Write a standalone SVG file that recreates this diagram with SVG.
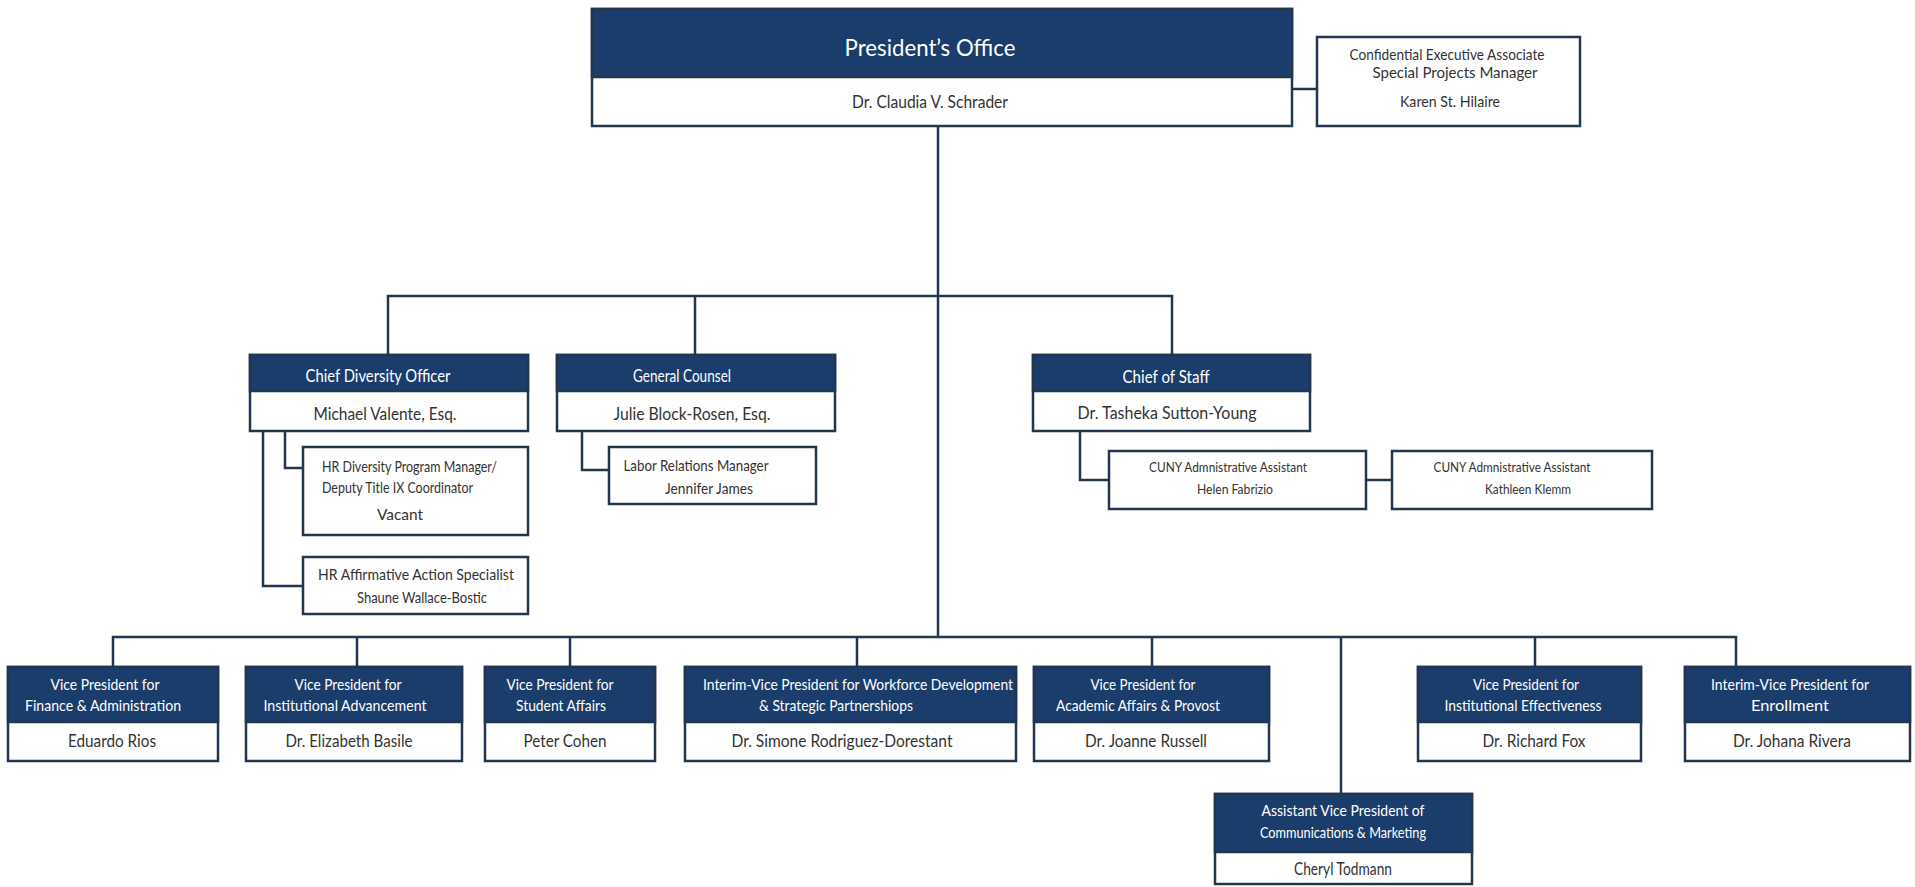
<svg xmlns="http://www.w3.org/2000/svg" width="1915" height="887" viewBox="0 0 1915 887">
<style>
.bx{fill:#fff;stroke:#233650;stroke-width:2.5}
.hd{fill:#1b3d6b;stroke:#233650;stroke-width:2.5}
.ln{fill:none;stroke:#233650;stroke-width:2.5}
text{font-family:Lato,"Open Sans","Liberation Sans",sans-serif;text-anchor:middle}
.tw{fill:#fff}
.td{fill:#333}
.s{text-anchor:start}
</style>
<rect width="1915" height="887" fill="#fff"/>
<g id="connectors">
<path class="ln" d="M938 126V637"/>
<path class="ln" d="M388 355V296H1172V355M695 296V355"/>
<path class="ln" d="M1292 89H1317"/>
<path class="ln" d="M285 431V468H303M263 431V586H303"/>
<path class="ln" d="M582 431V470H609"/>
<path class="ln" d="M1080 431V480H1109M1366 480H1392"/>
<path class="ln" d="M113 667V637H1736V667M357 637V667M570 637V667M857 637V667M1152 637V667M1535 637V667M1341 637V794"/>
</g>
<g id="president">
<rect class="bx" x="592" y="9" width="700" height="117"/>
<rect class="hd" x="592" y="9" width="700" height="68"/>
<text class="tw" x="930" y="56" font-size="24" textLength="171" lengthAdjust="spacingAndGlyphs">President’s Office</text>
<text class="td" x="930" y="108" font-size="17" textLength="156" lengthAdjust="spacingAndGlyphs">Dr. Claudia V. Schrader</text>
</g>
<g id="confidential">
<rect class="bx" x="1317" y="37" width="263" height="89"/>
<text class="td" x="1447" y="60" font-size="15" textLength="195" lengthAdjust="spacingAndGlyphs">Confidential Executive Associate</text>
<text class="td" x="1455" y="78" font-size="15" textLength="165" lengthAdjust="spacingAndGlyphs">Special  Projects  Manager</text>
<text class="td" x="1450" y="107" font-size="16" textLength="100" lengthAdjust="spacingAndGlyphs">Karen St. Hilaire</text>
</g>
<g id="cdo">
<rect class="bx" x="250" y="355" width="278" height="76"/>
<rect class="hd" x="250" y="355" width="278" height="36"/>
<text class="tw" x="378" y="382" font-size="17" textLength="145" lengthAdjust="spacingAndGlyphs">Chief Diversity Officer</text>
<text class="td" x="385" y="420" font-size="18" textLength="143" lengthAdjust="spacingAndGlyphs">Michael Valente, Esq.</text>
</g>
<g id="gc">
<rect class="bx" x="557" y="355" width="278" height="76"/>
<rect class="hd" x="557" y="355" width="278" height="36"/>
<text class="tw" x="682" y="382" font-size="17" textLength="98" lengthAdjust="spacingAndGlyphs">General Counsel</text>
<text class="td" x="692" y="420" font-size="18" textLength="157" lengthAdjust="spacingAndGlyphs">Julie Block-Rosen, Esq.</text>
</g>
<g id="cos">
<rect class="bx" x="1033" y="355" width="277" height="76"/>
<rect class="hd" x="1033" y="355" width="277" height="36"/>
<text class="tw" x="1166" y="383" font-size="17" textLength="87" lengthAdjust="spacingAndGlyphs">Chief of Staff</text>
<text class="td" x="1167" y="419" font-size="18" textLength="179" lengthAdjust="spacingAndGlyphs">Dr. Tasheka Sutton-Young</text>
</g>
<g id="hr-diversity">
<rect class="bx" x="303" y="447" width="225" height="88"/>
<text class="td s" x="322" y="472" font-size="15" textLength="175" lengthAdjust="spacingAndGlyphs">HR Diversity Program Manager/</text>
<text class="td s" x="322" y="493" font-size="15" textLength="151" lengthAdjust="spacingAndGlyphs">Deputy Title IX Coordinator</text>
<text class="td" x="400" y="520" font-size="15" textLength="46" lengthAdjust="spacingAndGlyphs">Vacant</text>
</g>
<g id="hr-affirmative">
<rect class="bx" x="303" y="557" width="225" height="57"/>
<text class="td" x="416" y="580" font-size="15" textLength="196" lengthAdjust="spacingAndGlyphs">HR Affirmative Action Specialist</text>
<text class="td" x="422" y="603" font-size="15" textLength="130" lengthAdjust="spacingAndGlyphs">Shaune Wallace-Bostic</text>
</g>
<g id="labor-relations">
<rect class="bx" x="609" y="447" width="207" height="57"/>
<text class="td" x="696" y="471" font-size="15" textLength="145" lengthAdjust="spacingAndGlyphs">Labor Relations Manager</text>
<text class="td" x="709" y="494" font-size="15" textLength="88" lengthAdjust="spacingAndGlyphs">Jennifer James</text>
</g>
<g id="cuny-1">
<rect class="bx" x="1109" y="451" width="257" height="58"/>
<text class="td" x="1228" y="472" font-size="13" textLength="158" lengthAdjust="spacingAndGlyphs">CUNY Admnistrative Assistant</text>
<text class="td" x="1235" y="494" font-size="13" textLength="76" lengthAdjust="spacingAndGlyphs">Helen Fabrizio</text>
</g>
<g id="cuny-2">
<rect class="bx" x="1392" y="451" width="260" height="58"/>
<text class="td" x="1512" y="472" font-size="13" textLength="157" lengthAdjust="spacingAndGlyphs">CUNY Admnistrative Assistant</text>
<text class="td" x="1528" y="494" font-size="13" textLength="86" lengthAdjust="spacingAndGlyphs">Kathleen Klemm</text>
</g>
<g id="vp-finance">
<rect class="bx" x="8" y="667" width="210" height="94"/>
<rect class="hd" x="8" y="667" width="210" height="55"/>
<text class="tw" x="105" y="690" font-size="16" textLength="109" lengthAdjust="spacingAndGlyphs">Vice President for</text>
<text class="tw" x="103" y="711" font-size="16" textLength="156" lengthAdjust="spacingAndGlyphs">Finance &amp; Administration</text>
<text class="td" x="112" y="747" font-size="17" textLength="88" lengthAdjust="spacingAndGlyphs">Eduardo Rios</text>
</g>
<g id="vp-advancement">
<rect class="bx" x="246" y="667" width="216" height="94"/>
<rect class="hd" x="246" y="667" width="216" height="55"/>
<text class="tw" x="348" y="690" font-size="16" textLength="107" lengthAdjust="spacingAndGlyphs">Vice President for</text>
<text class="tw" x="345" y="711" font-size="16" textLength="163" lengthAdjust="spacingAndGlyphs">Institutional Advancement</text>
<text class="td" x="349" y="747" font-size="17" textLength="127" lengthAdjust="spacingAndGlyphs">Dr. Elizabeth Basile</text>
</g>
<g id="vp-student">
<rect class="bx" x="485" y="667" width="170" height="94"/>
<rect class="hd" x="485" y="667" width="170" height="55"/>
<text class="tw" x="560" y="690" font-size="16" textLength="107" lengthAdjust="spacingAndGlyphs">Vice President for</text>
<text class="tw" x="561" y="711" font-size="16" textLength="90" lengthAdjust="spacingAndGlyphs">Student Affairs</text>
<text class="td" x="565" y="747" font-size="17" textLength="83" lengthAdjust="spacingAndGlyphs">Peter Cohen</text>
</g>
<g id="vp-workforce">
<rect class="bx" x="685" y="667" width="331" height="94"/>
<rect class="hd" x="685" y="667" width="331" height="55"/>
<text class="tw" x="858" y="690" font-size="16" textLength="310" lengthAdjust="spacingAndGlyphs">Interim-Vice President for Workforce Development</text>
<text class="tw" x="836" y="711" font-size="16" textLength="154" lengthAdjust="spacingAndGlyphs">&amp; Strategic Partnershiops</text>
<text class="td" x="842" y="747" font-size="17" textLength="221" lengthAdjust="spacingAndGlyphs">Dr. Simone Rodriguez-Dorestant</text>
</g>
<g id="vp-academic">
<rect class="bx" x="1034" y="667" width="235" height="94"/>
<rect class="hd" x="1034" y="667" width="235" height="55"/>
<text class="tw" x="1143" y="690" font-size="16" textLength="105" lengthAdjust="spacingAndGlyphs">Vice President for</text>
<text class="tw" x="1138" y="711" font-size="16" textLength="164" lengthAdjust="spacingAndGlyphs">Academic Affairs &amp; Provost</text>
<text class="td" x="1146" y="747" font-size="17" textLength="122" lengthAdjust="spacingAndGlyphs">Dr. Joanne Russell</text>
</g>
<g id="avp-communications">
<rect class="bx" x="1215" y="794" width="257" height="90"/>
<rect class="hd" x="1215" y="794" width="257" height="58"/>
<text class="tw" x="1343" y="816" font-size="16" textLength="163" lengthAdjust="spacingAndGlyphs">Assistant Vice President of</text>
<text class="tw" x="1343" y="838" font-size="16" textLength="166" lengthAdjust="spacingAndGlyphs">Communications &amp; Marketing</text>
<text class="td" x="1343" y="875" font-size="17" textLength="98" lengthAdjust="spacingAndGlyphs">Cheryl Todmann</text>
</g>
<g id="vp-effectiveness">
<rect class="bx" x="1418" y="667" width="223" height="94"/>
<rect class="hd" x="1418" y="667" width="223" height="55"/>
<text class="tw" x="1526" y="690" font-size="16" textLength="106" lengthAdjust="spacingAndGlyphs">Vice President for</text>
<text class="tw" x="1523" y="711" font-size="16" textLength="157" lengthAdjust="spacingAndGlyphs">Institutional Effectiveness</text>
<text class="td" x="1534" y="747" font-size="17" textLength="103" lengthAdjust="spacingAndGlyphs">Dr. Richard Fox</text>
</g>
<g id="vp-enrollment">
<rect class="bx" x="1685" y="667" width="225" height="94"/>
<rect class="hd" x="1685" y="667" width="225" height="55"/>
<text class="tw" x="1790" y="690" font-size="16" textLength="158" lengthAdjust="spacingAndGlyphs">Interim-Vice President for</text>
<text class="tw" x="1790" y="711" font-size="16" textLength="78" lengthAdjust="spacingAndGlyphs">Enrollment</text>
<text class="td" x="1792" y="747" font-size="17" textLength="118" lengthAdjust="spacingAndGlyphs">Dr. Johana Rivera</text>
</g>
</svg>
